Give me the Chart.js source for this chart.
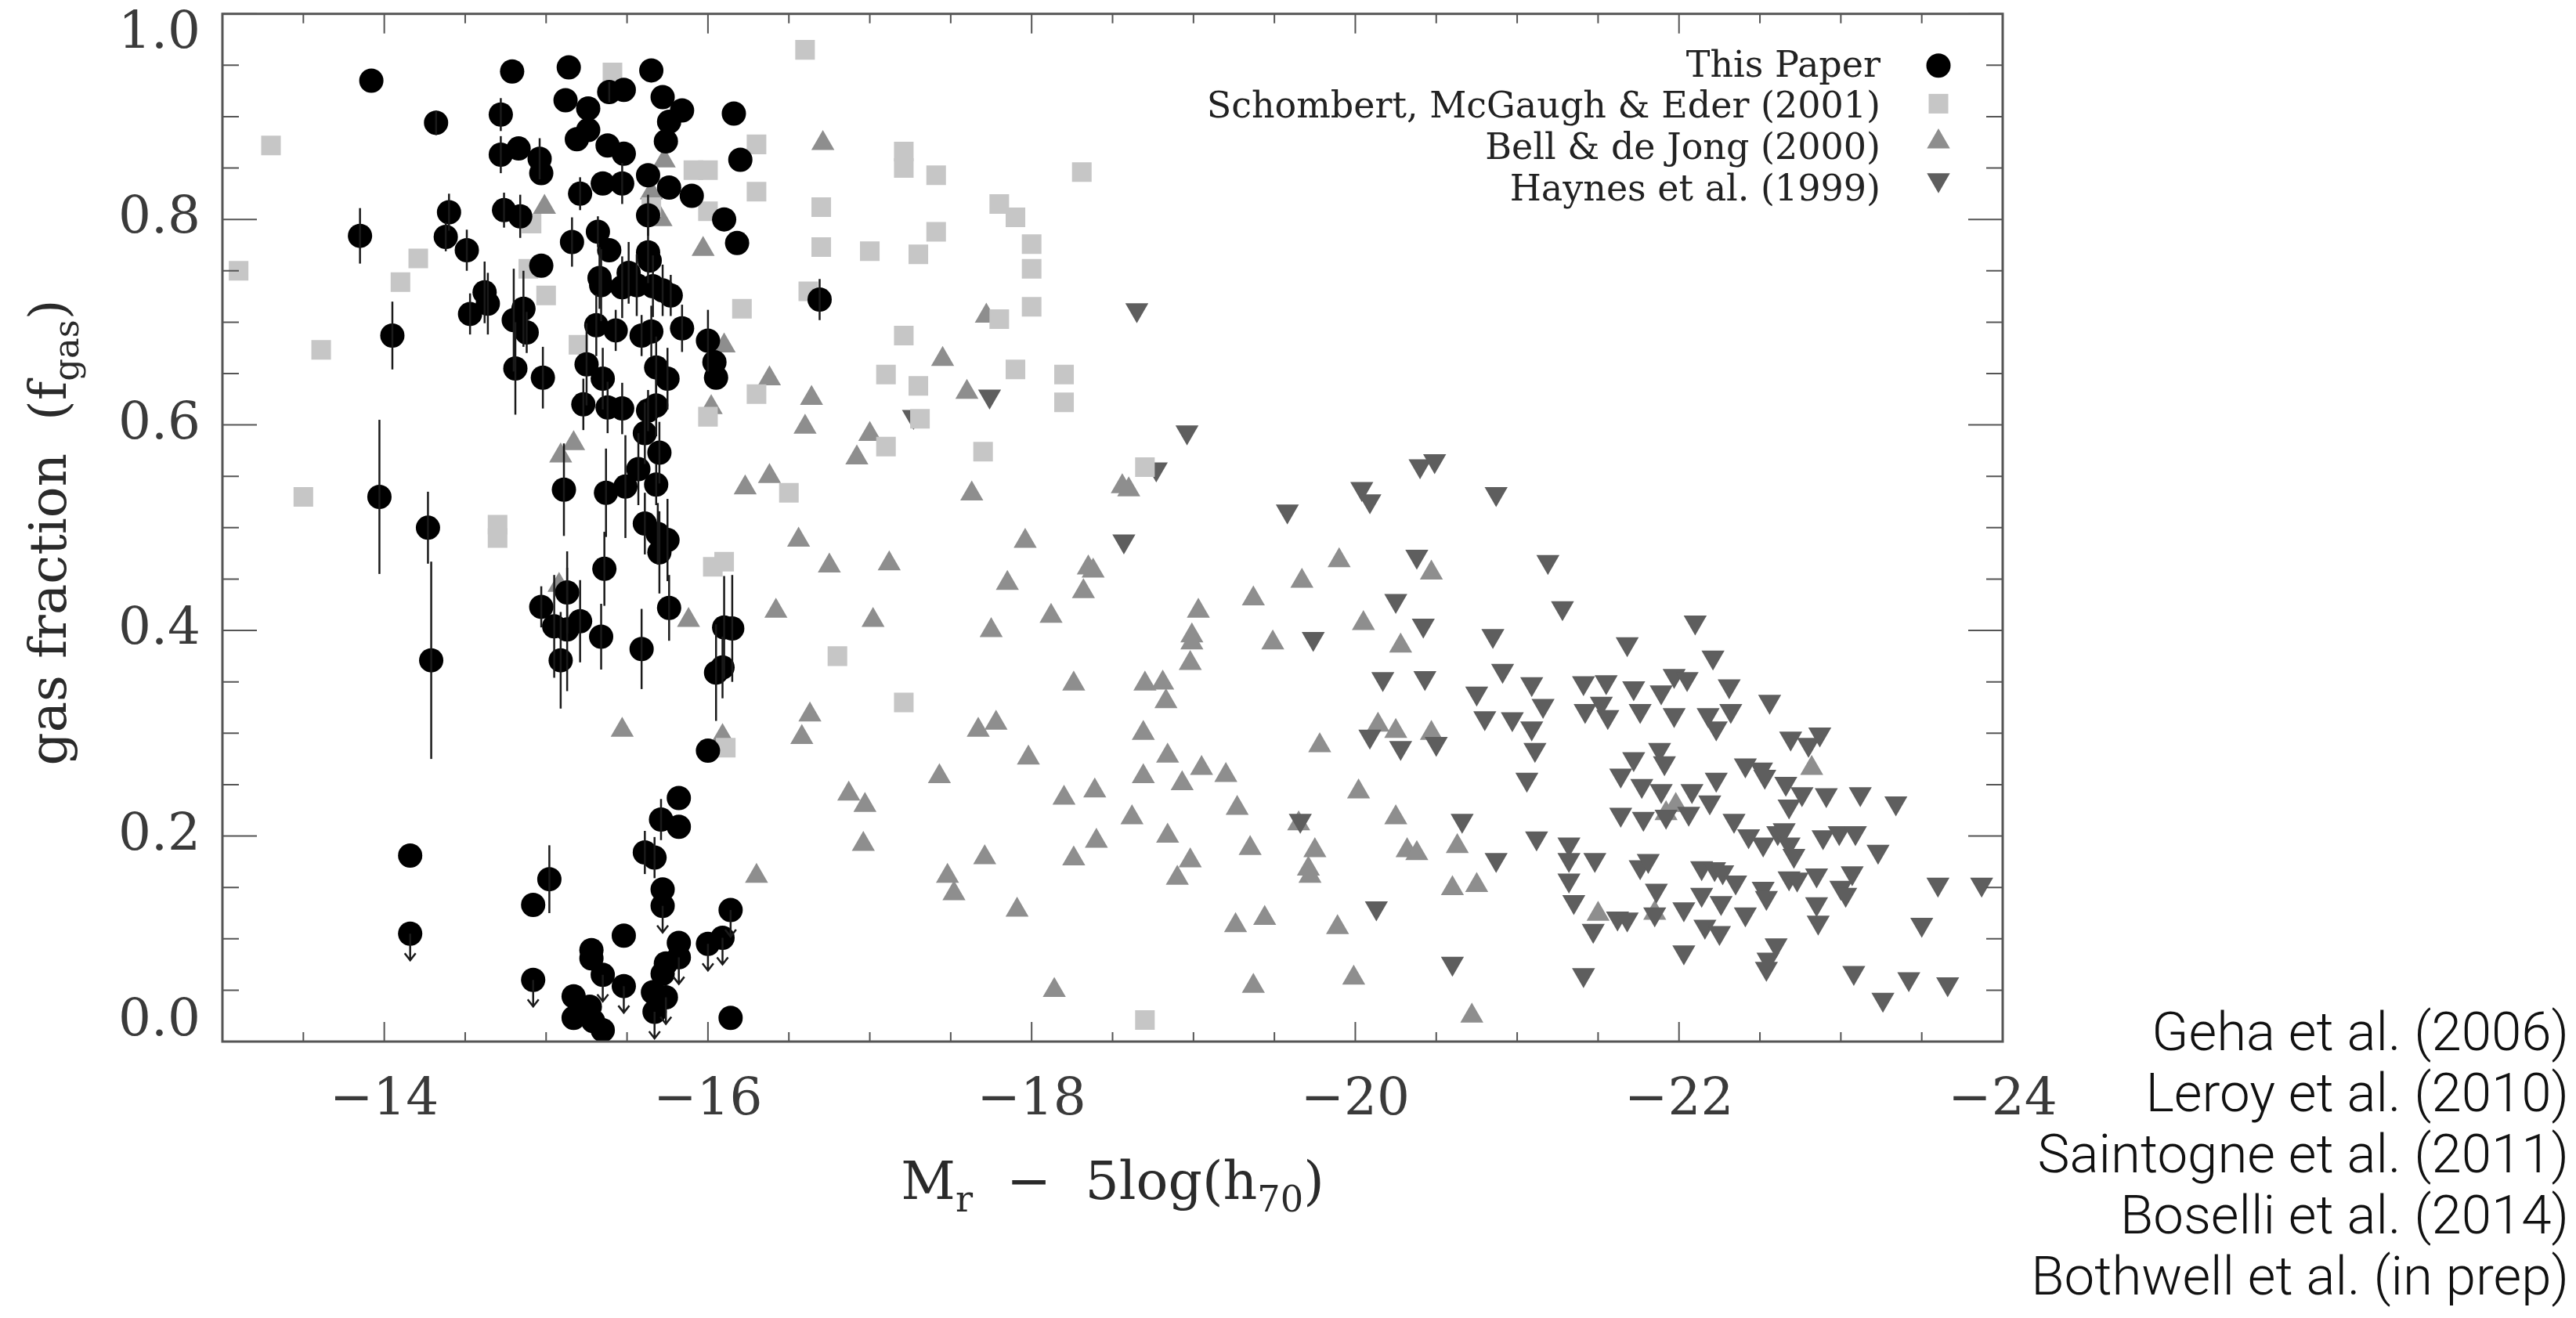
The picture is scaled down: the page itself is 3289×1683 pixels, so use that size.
<!DOCTYPE html>
<html lang="en">
<head>
<meta charset="UTF-8">
<title>Gas fraction vs. r-band absolute magnitude</title>
<script src="https://cdn.jsdelivr.net/npm/chart.js"></script>
<style>
    body {
        margin: 0;
        background: #fff;
    }
    .page {
        position: relative;
        width: 3289px;
        height: 1683px;
        overflow: hidden;
    }
    #gasChart {
        position: absolute;
        left: 0;
        top: 0;
    }
    .refs {
        position: absolute;
        right: 9px;
        top: 1279px;
        text-align: right;
        color: #111;
        font-family: Roboto, "Open Sans", sans-serif;
        font-weight: 300;
        font-size: 69px;
        line-height: 78px;
        white-space: nowrap;
    }
</style>
</head>
<body>
<div class="page">
    <canvas id="gasChart" width="3289" height="1683"></canvas>
    <div class="refs" id="refs"></div>
</div>

<script>
    // axis ticks
    const xTickValues = [-14, -16, -18, -20, -22, -24];
    const yTickValues = [0, 0.2, 0.4, 0.6, 0.8, 1.0];
    const yTickLabels = ['0.0', '0.2', '0.4', '0.6', '0.8', '1.0'];

    const seriesNames = [
        'This Paper',
        'Schombert, McGaugh & Eder (2001)',
        'Bell & de Jong (2000)',
        'Haynes et al. (1999)'
    ];

    const otherSurveys = [
        'Geha et al. (2006)',
        'Leroy et al. (2010)',
        'Saintogne et al. (2011)',
        'Boselli et al. (2014)',
        'Bothwell et al. (in prep)'
    ];

    // This Paper: magnitude, gas fraction, error (0 = none), upper limit flag
    const thisPaperX = [
        -14.79, -15.14, -15.65, -15.12, -15.26, -15.39, -15.48, -15.72, -15.84, -15.76,
        -15.74, -16.16, -14.72, -14.32, -15.26, -15.19, -14.72, -14.83, -14.96, -14.97,
        -15.38, -15.48, -16.20, -15.21, -15.35, -15.47, -15.63, -15.76, -15.90, -14.40,
        -14.74, -14.84, -15.63, -14.38, -14.51, -16.10, -16.18, -15.16, -15.32, -15.39,
        -15.63, -15.64, -14.97, -15.33, -15.34, -15.51, -15.47, -15.56, -15.66, -15.72,
        -15.77, -14.62, -14.64, -14.53, -14.86, -14.80, -14.88, -15.31, -15.43, -15.59,
        -15.65, -15.84, -16.00, -16.04, -16.05, -14.81, -14.98, -15.25, -15.35, -15.68,
        -15.75, -15.23, -15.38, -15.47, -15.63, -15.68, -15.61, -15.70, -15.57, -15.68,
        -15.11, -15.37, -15.49, -15.61, -15.69, -15.75, -15.70, -15.36, -15.13, -14.97,
        -15.05, -15.13, -15.21, -15.09, -15.34, -15.59, -15.76, -16.10, -16.15, -16.05,
        -16.09, -16.00, -15.82, -15.71, -15.82, -15.61, -15.67, -15.72, -15.72, -15.02,
        -14.92, -16.14, -15.48, -15.28, -15.28, -15.35, -15.48, -14.92, -15.82, -15.82,
        -15.74, -15.72, -16.00, -16.09, -15.66, -15.74, -15.67, -15.17, -15.27, -15.17,
        -15.29, -15.35, -16.14, -16.69, -14.16, -14.16, -13.92, -13.85, -14.05, -13.97,
        -14.27, -14.29
    ];
    const thisPaperY = [
        0.944, 0.948, 0.945, 0.916, 0.908, 0.924, 0.926, 0.919, 0.906, 0.895,
        0.876, 0.903, 0.902, 0.894, 0.887, 0.878, 0.863, 0.869, 0.859, 0.845,
        0.872, 0.864, 0.858, 0.825, 0.835, 0.835, 0.843, 0.831, 0.823, 0.807,
        0.809, 0.803, 0.804, 0.783, 0.770, 0.800, 0.777, 0.778, 0.788, 0.770,
        0.768, 0.760, 0.755, 0.743, 0.736, 0.748, 0.734, 0.736, 0.735, 0.731,
        0.726, 0.729, 0.718, 0.708, 0.713, 0.702, 0.690, 0.697, 0.692, 0.687,
        0.691, 0.694, 0.682, 0.661, 0.646, 0.655, 0.646, 0.659, 0.645, 0.656,
        0.645, 0.620, 0.617, 0.616, 0.614, 0.619, 0.592, 0.573, 0.557, 0.542,
        0.537, 0.534, 0.540, 0.504, 0.494, 0.488, 0.476, 0.460, 0.437, 0.423,
        0.404, 0.401, 0.409, 0.371, 0.394, 0.382, 0.422, 0.403, 0.402, 0.359,
        0.364, 0.283, 0.237, 0.216, 0.209, 0.184, 0.179, 0.148, 0.132, 0.158,
        0.133, 0.128, 0.103, 0.089, 0.081, 0.065, 0.054, 0.060, 0.096, 0.082,
        0.076, 0.066, 0.095, 0.101, 0.048, 0.043, 0.029, 0.044, 0.034, 0.023,
        0.020, 0.011, 0.023, 0.722, 0.181, 0.105, 0.935, 0.784, 0.687, 0.530,
        0.500, 0.371
    ];
    const thisPaperErr = [
        0, 0, 0, 0, 0, 0.01, 0, 0, 0, 0,
        0, 0, 0.016, 0.012, 0, 0, 0.018, 0, 0.02, 0,
        0, 0, 0, 0.016, 0, 0.02, 0, 0, 0, 0.018,
        0.017, 0.021, 0.02, 0.014, 0.02, 0, 0, 0.024, 0.015, 0,
        0.03, 0, 0, 0.03, 0.035, 0.03, 0.03, 0.03, 0.03, 0.025,
        0.02, 0.03, 0.03, 0.02, 0.037, 0.05, 0.02, 0.03, 0.02, 0.02,
        0.025, 0.023, 0.03, 0, 0, 0.045, 0.03, 0.04, 0.03, 0.03,
        0.03, 0.025, 0.025, 0.025, 0.02, 0.03, 0.03, 0.03, 0.035, 0.02,
        0.045, 0.043, 0.05, 0.03, 0.03, 0.04, 0.04, 0.036, 0.04, 0.02,
        0.05, 0.06, 0.04, 0.047, 0.032, 0.039, 0.032, 0.05, 0.052, 0.047,
        0.03, 0, 0, 0.02, 0, 0.021, 0.02, 0, 0, 0.033,
        0, 0, 0, 0, 0, 0, 0, 0, 0, 0,
        0, 0, 0, 0, 0, 0, 0, 0, 0, 0,
        0, 0, 0, 0.02, 0, 0, 0, 0.027, 0.033, 0.075,
        0.035, 0.096
    ];
    const thisPaperLimit = [
        0, 0, 0, 0, 0, 0, 0, 0, 0, 0,
        0, 0, 0, 0, 0, 0, 0, 0, 0, 0,
        0, 0, 0, 0, 0, 0, 0, 0, 0, 0,
        0, 0, 0, 0, 0, 0, 0, 0, 0, 0,
        0, 0, 0, 0, 0, 0, 0, 0, 0, 0,
        0, 0, 0, 0, 0, 0, 0, 0, 0, 0,
        0, 0, 0, 0, 0, 0, 0, 0, 0, 0,
        0, 0, 0, 0, 0, 0, 0, 0, 0, 0,
        0, 0, 0, 0, 0, 0, 0, 0, 0, 0,
        0, 0, 0, 0, 0, 0, 0, 0, 0, 0,
        0, 0, 0, 0, 0, 0, 0, 0, 1, 0,
        0, 1, 0, 0, 0, 1, 1, 1, 0, 1,
        0, 0, 1, 1, 0, 1, 1, 0, 0, 0,
        0, 0, 0, 0, 0, 1, 0, 0, 0, 0,
        0, 0
    ];

    // Schombert, McGaugh & Eder (2001)
    const schombertX = [
        -13.30, -13.10, -14.21, -14.10, -13.61, -13.50, -14.70, -14.70, -15.41, -14.91,
        -14.89, -15.00, -15.20, -16.60, -16.30, -15.91, -16.00, -16.30, -16.00, -15.65,
        -16.70, -16.70, -16.62, -16.21, -16.00, -16.30, -16.50, -16.03, -16.10, -16.80,
        -16.11, -17.21, -17.21, -17.41, -17.80, -17.90, -18.31, -17.41, -17.00, -17.30,
        -18.00, -18.00, -18.00, -17.80, -17.21, -17.10, -17.30, -17.90, -18.20, -18.20,
        -17.31, -17.10, -17.70, -18.70, -17.21, -18.70
    ];
    const schombertY = [
        0.872, 0.750, 0.762, 0.739, 0.673, 0.530, 0.503, 0.490, 0.943, 0.796,
        0.752, 0.726, 0.678, 0.965, 0.873, 0.848, 0.848, 0.827, 0.808, 0.812,
        0.812, 0.773, 0.730, 0.713, 0.608, 0.630, 0.534, 0.462, 0.467, 0.375,
        0.286, 0.866, 0.850, 0.843, 0.815, 0.802, 0.846, 0.788, 0.769, 0.766,
        0.776, 0.752, 0.715, 0.703, 0.687, 0.649, 0.638, 0.654, 0.649, 0.622,
        0.606, 0.579, 0.574, 0.559, 0.330, 0.021
    ];

    // Bell & de Jong (2000)
    const bellX = [
        -14.99, -15.73, -15.65, -15.71, -15.97, -16.71, -16.10, -16.38, -16.64, -16.60,
        -16.02, -15.09, -15.17, -16.23, -16.38, -16.56, -16.92, -15.08, -15.88, -16.42,
        -15.47, -16.09, -16.63, -16.58, -16.30, -16.75, -16.87, -16.96, -17.72, -17.45,
        -17.00, -17.60, -17.63, -18.56, -18.60, -17.96, -17.12, -17.02, -17.85, -18.35,
        -18.38, -18.32, -18.12, -17.75, -19.03, -18.99, -18.99, -18.98, -19.37, -19.49,
        -19.67, -19.90, -20.05, -20.28, -20.47, -18.26, -18.70, -18.81, -18.83, -17.67,
        -17.78, -18.69, -17.98, -17.43, -18.84, -19.05, -19.20, -18.69, -18.93, -16.97,
        -18.20, -18.39, -19.27, -18.62, -19.78, -20.02, -20.14, -20.25, -20.47, -19.65,
        -20.25, -17.71, -18.84, -18.40, -18.26, -17.48, -17.52, -18.98, -18.90, -19.35,
        -19.75, -19.71, -19.72, -20.32, -20.38, -20.63, -20.60, -20.75, -17.91, -19.26,
        -19.44, -19.89, -18.14, -19.37, -19.99, -20.72, -21.50, -21.85, -21.92, -21.98,
        -22.82
    ];
    const bellY = [
        0.812, 0.857, 0.826, 0.800, 0.771, 0.874, 0.677, 0.645, 0.626, 0.598,
        0.617, 0.570, 0.582, 0.539, 0.550, 0.488, 0.568, 0.444, 0.410, 0.419,
        0.303, 0.297, 0.318, 0.296, 0.161, 0.463, 0.241, 0.192, 0.706, 0.664,
        0.591, 0.632, 0.533, 0.540, 0.537, 0.487, 0.465, 0.410, 0.446, 0.461,
        0.458, 0.438, 0.414, 0.400, 0.419, 0.395, 0.388, 0.368, 0.431, 0.388,
        0.448, 0.468, 0.407, 0.385, 0.456, 0.348, 0.348, 0.349, 0.331, 0.303,
        0.310, 0.300, 0.276, 0.258, 0.278, 0.266, 0.259, 0.258, 0.251, 0.230,
        0.237, 0.244, 0.227, 0.218, 0.288, 0.243, 0.308, 0.302, 0.300, 0.212,
        0.218, 0.179, 0.200, 0.195, 0.178, 0.161, 0.144, 0.176, 0.159, 0.188,
        0.186, 0.168, 0.161, 0.186, 0.183, 0.190, 0.149, 0.152, 0.128, 0.113,
        0.120, 0.111, 0.050, 0.054, 0.062, 0.025, 0.124, 0.125, 0.222, 0.230,
        0.266
    ];

    // Haynes et al. (1999)
    const haynesX = [
        -18.65, -17.74, -17.27, -18.96, -18.77, -20.40, -20.49, -20.04, -20.09, -19.58,
        -20.87, -18.57, -20.38, -20.25, -20.42, -19.74, -21.19, -21.28, -20.17, -20.43,
        -20.09, -20.28, -20.50, -19.66, -20.66, -20.13, -20.60, -22.10, -20.85, -21.68,
        -20.91, -22.21, -21.09, -21.41, -21.55, -21.72, -21.97, -22.05, -22.31, -20.75,
        -21.16, -21.42, -21.52, -21.56, -21.76, -21.89, -21.97, -22.18, -22.23, -22.32,
        -20.80, -20.97, -21.09, -21.11, -21.06, -21.72, -21.88, -21.91, -21.64, -21.77,
        -21.89, -22.08, -22.23, -22.19, -21.64, -21.78, -21.92, -22.06, -22.34, -21.12,
        -20.87, -21.32, -21.32, -21.32, -21.35, -21.48, -21.76, -21.81, -21.86, -22.14,
        -22.22, -22.27, -22.14, -22.26, -22.35, -21.62, -21.68, -21.47, -21.85, -22.03,
        -22.16, -22.25, -22.03, -21.41, -22.56, -22.69, -22.80, -22.87, -22.41, -22.51,
        -22.53, -22.66, -22.76, -22.91, -23.12, -23.34, -22.68, -22.43, -22.52, -22.61,
        -22.65, -22.68, -22.71, -22.89, -22.99, -23.09, -23.23, -22.52, -22.54, -22.68,
        -22.73, -22.85, -23.00, -23.03, -23.07, -23.60, -23.87, -22.41, -22.85, -22.86,
        -23.50, -22.60, -22.55, -22.54, -23.08, -23.26, -23.42, -23.66
    ];
    const haynesY = [
        0.712, 0.628, 0.608, 0.593, 0.557, 0.560, 0.565, 0.538, 0.526, 0.516,
        0.533, 0.487, 0.472, 0.429, 0.405, 0.392, 0.467, 0.422, 0.353, 0.354,
        0.297, 0.286, 0.290, 0.215, 0.215, 0.130, 0.076, 0.408, 0.395, 0.387,
        0.361, 0.374, 0.348, 0.349, 0.350, 0.344, 0.356, 0.353, 0.346, 0.339,
        0.327, 0.322, 0.329, 0.316, 0.322, 0.340, 0.318, 0.318, 0.305, 0.322,
        0.315, 0.314, 0.305, 0.284, 0.255, 0.275, 0.284, 0.271, 0.259, 0.249,
        0.244, 0.244, 0.255, 0.233, 0.221, 0.217, 0.219, 0.222, 0.215, 0.198,
        0.177, 0.192, 0.177, 0.157, 0.136, 0.177, 0.170, 0.176, 0.147, 0.169,
        0.168, 0.165, 0.143, 0.135, 0.155, 0.120, 0.119, 0.108, 0.124, 0.129,
        0.112, 0.106, 0.087, 0.065, 0.331, 0.295, 0.289, 0.299, 0.269, 0.265,
        0.258, 0.251, 0.241, 0.240, 0.241, 0.232, 0.229, 0.200, 0.192, 0.203,
        0.206, 0.192, 0.181, 0.199, 0.203, 0.203, 0.185, 0.149, 0.140, 0.159,
        0.158, 0.162, 0.150, 0.143, 0.164, 0.153, 0.153, 0.124, 0.134, 0.116,
        0.114, 0.094, 0.080, 0.071, 0.067, 0.041, 0.061, 0.056
    ];

    const serif = '"DejaVu Serif", "Liberation Serif", serif';

    // one marker style per series, same order as seriesNames
    const markers = [
        { style: 'circle', rotation: 0, radius: 15.5, color: '#000000' },
        { style: 'rect', rotation: 0, radius: 17.7, color: '#c6c6c6' },
        { style: 'triangle', rotation: 0, radius: 17, color: '#8e8e8e' },
        { style: 'triangle', rotation: 180, radius: 17, color: '#5e5e5e' }
    ];

    function toPoints(xs, ys) {
        return xs.map((x, i) => ({ x: x, y: ys[i] }));
    }

    function drawMarker(ctx, m, x, y) {
        ctx.fillStyle = m.color;
        ctx.beginPath();
        if (m.style === 'circle') {
            ctx.arc(x, y, m.radius, 0, Math.PI * 2);
        } else if (m.style === 'rect') {
            const s = m.radius * Math.SQRT1_2;
            ctx.rect(x - s, y - s, 2 * s, 2 * s);
        } else {
            let a = m.rotation * Math.PI / 180;
            ctx.moveTo(x + Math.sin(a) * m.radius, y - Math.cos(a) * m.radius);
            for (let k = 0; k < 2; k++) {
                a += Math.PI * 2 / 3;
                ctx.lineTo(x + Math.sin(a) * m.radius, y - Math.cos(a) * m.radius);
            }
            ctx.closePath();
        }
        ctx.fill();
    }

    // text with subscripts: parts = [[text, isSub], ...], centred on x
    function drawRich(ctx, parts, size, x, y) {
        const fontFor = sub => (sub ? size * 0.68 : size) + 'px ' + serif;
        let w = 0;
        parts.forEach(p => { ctx.font = fontFor(p[1]); w += ctx.measureText(p[0]).width; });
        let cx = x - w / 2;
        parts.forEach(p => {
            ctx.font = fontFor(p[1]);
            ctx.fillText(p[0], cx, y + (p[1] ? size * 0.24 : 0));
            cx += ctx.measureText(p[0]).width;
        });
    }

    // error bars and upper-limit arrows for This Paper
    const errorBars = {
        id: 'errorBars',
        afterDatasetsDraw(chart) {
            const { ctx, scales: { x, y } } = chart;
            ctx.save();
            ctx.strokeStyle = '#1a1a1a';
            ctx.lineWidth = 2.5;
            thisPaperX.forEach((xv, i) => {
                const px = x.getPixelForValue(xv);
                const py = y.getPixelForValue(thisPaperY[i]);
                const e = thisPaperErr[i];
                if (e > 0) {
                    ctx.beginPath();
                    ctx.moveTo(px, y.getPixelForValue(thisPaperY[i] + e));
                    ctx.lineTo(px, y.getPixelForValue(thisPaperY[i] - e));
                    ctx.stroke();
                }
                if (thisPaperLimit[i]) {
                    const tip = py + 34;
                    ctx.beginPath();
                    ctx.moveTo(px, py);
                    ctx.lineTo(px, tip);
                    ctx.moveTo(px - 7, tip - 9);
                    ctx.lineTo(px, tip);
                    ctx.lineTo(px + 7, tip - 9);
                    ctx.stroke();
                }
            });
            ctx.restore();
        }
    };

    // box frame with inward ticks on all four sides, y tick labels
    const frameTicks = {
        id: 'frameTicks',
        afterDatasetsDraw(chart) {
            const { ctx, chartArea: a, scales: { x, y } } = chart;
            ctx.save();
            ctx.strokeStyle = '#555';
            ctx.lineWidth = 2;
            ctx.beginPath();
            for (let i = 0; i <= 22; i++) {
                const v = -13 - i * 0.5;
                const len = v % 2 === 0 ? 25 : 12;
                const px = x.getPixelForValue(v);
                ctx.moveTo(px, a.bottom);
                ctx.lineTo(px, a.bottom - len);
                ctx.moveTo(px, a.top);
                ctx.lineTo(px, a.top + len);
            }
            for (let i = 0; i <= 20; i++) {
                const v = i * 0.05;
                const len = i % 4 === 0 ? 44 : 21;
                const py = y.getPixelForValue(v);
                ctx.moveTo(a.left, py);
                ctx.lineTo(a.left + len, py);
                ctx.moveTo(a.right, py);
                ctx.lineTo(a.right - len, py);
            }
            ctx.stroke();
            ctx.lineWidth = 3;
            ctx.strokeRect(a.left, a.top, a.right - a.left, a.bottom - a.top);

            ctx.fillStyle = '#3a3a3a';
            ctx.font = '66px ' + serif;
            ctx.textAlign = 'right';
            ctx.textBaseline = 'middle';
            yTickValues.forEach((v, i) => {
                let py = y.getPixelForValue(v);
                if (v === y.max) py += 26;
                if (v === y.min) py -= 25;
                ctx.fillText(yTickLabels[i], a.left - 28, py);
            });
            ctx.restore();
        }
    };

    // legend in the upper right corner, axis titles
    const labelsPlugin = {
        id: 'labelsPlugin',
        afterDraw(chart) {
            const { ctx, chartArea: a } = chart;
            ctx.save();
            ctx.fillStyle = '#222';
            ctx.font = '46px ' + serif;
            ctx.textAlign = 'right';
            ctx.textBaseline = 'alphabetic';
            seriesNames.forEach((name, i) => {
                ctx.fillStyle = '#222';
                ctx.fillText(name, a.right - 156, a.top + 80 + i * 52.7);
                drawMarker(ctx, markers[i], a.right - 82, a.top + 66 + i * 48.7);
            });

            ctx.fillStyle = '#2a2a2a';
            ctx.textAlign = 'left';
            drawRich(ctx, [['M', 0], ['r', 1], ['  \u2212  5log(h', 0], ['70', 1], [')', 0]],
                68, (a.left + a.right) / 2, 1531);

            ctx.translate(84, 680);
            ctx.rotate(-Math.PI / 2);
            drawRich(ctx, [['gas fraction  (f', 0], ['gas', 1], [')', 0]], 66, 0, 0);
            ctx.restore();
        }
    };

    const datasets = [
        [thisPaperX, thisPaperY],
        [schombertX, schombertY],
        [bellX, bellY],
        [haynesX, haynesY]
    ].map((d, i) => ({
        label: seriesNames[i],
        data: toPoints(d[0], d[1]),
        pointStyle: markers[i].style,
        pointRotation: markers[i].rotation,
        pointRadius: markers[i].radius,
        pointBackgroundColor: markers[i].color,
        pointBorderWidth: 0,
        showLine: false,
        order: [0, 1, 3, 2][i]
    }));

    document.getElementById('refs').innerHTML =
        otherSurveys.map(s => s.replace(/&/g, '&amp;')).join('<br>');

    new Chart(document.getElementById('gasChart').getContext('2d'), {
        type: 'scatter',
        data: { datasets: datasets },
        options: {
            responsive: false,
            devicePixelRatio: 1,
            animation: false,
            events: [],
            layout: { padding: { left: 0, top: 16, right: 732, bottom: 0 } },
            plugins: {
                legend: { display: false },
                tooltip: { enabled: false }
            },
            scales: {
                x: {
                    type: 'linear',
                    min: -24,
                    max: -13,
                    reverse: true,
                    grid: { display: false, drawTicks: false },
                    border: { display: false },
                    afterBuildTicks: scale => {
                        scale.ticks = xTickValues.map(v => ({ value: v }));
                    },
                    afterFit: scale => { scale.height = 353; },
                    ticks: {
                        autoSkip: false,
                        maxRotation: 0,
                        padding: 36,
                        color: '#3a3a3a',
                        font: { family: serif, size: 66 },
                        callback: v => (v < 0 ? '\u2212' : '') + Math.abs(v)
                    }
                },
                y: {
                    type: 'linear',
                    min: 0,
                    max: 1,
                    grid: { display: false, drawTicks: false },
                    border: { display: false },
                    ticks: { display: false },
                    afterFit: scale => { scale.width = 284; }
                }
            }
        },
        plugins: [errorBars, frameTicks, labelsPlugin]
    });
</script>
</body>
</html>
